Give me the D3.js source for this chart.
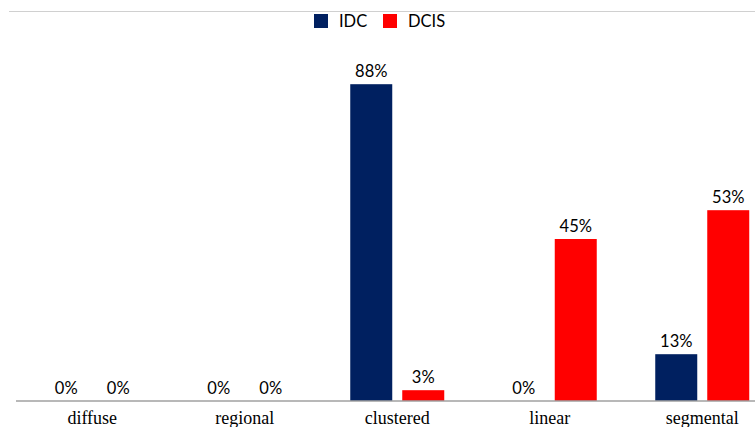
<!DOCTYPE html>
<html>
<head>
<meta charset="utf-8">
<script src="https://cdn.jsdelivr.net/npm/d3@7"></script>
<style>
  body { margin: 0; background: #fff; }
</style>
</head>
<body>
<div id="chart-area"></div>
<script>
// data
var categories = ["diffuse", "regional", "clustered", "linear", "segmental"];
var seriesNames = ["IDC", "DCIS"];
var idcValues = [0, 0, 88, 0, 13];
var dcisValues = [0, 0, 3, 45, 53];
var seriesColors = ["#002060", "#ff0000"];

var W = 755, H = 427;
var svg = d3.select("#chart-area").append("svg")
    .attr("width", W)
    .attr("height", H);

var data = categories.map((c, i) => {
    return { name: c, values: [idcValues[i], dcisValues[i]] };
});

// band step ~152.5, chart runs past the right edge
var x = d3.scaleBand()
    .domain(categories)
    .range([16, 16 + 152.5 * categories.length])
    .padding(0);

// two bars 42 wide with a 10px gap
var xInner = d3.scaleBand()
    .domain(seriesNames)
    .range([x.bandwidth() / 2 - 47, x.bandwidth() / 2 + 47])
    .paddingInner(10 / 52)
    .paddingOuter(0);

var y = d3.scaleLinear()
    .domain([0, 100])
    .range([401, 41]);

// top rule
svg.append("line")
    .attr("x1", 9).attr("x2", W)
    .attr("y1", 11.5).attr("y2", 11.5)
    .attr("stroke", "#d0d0d0")
    .attr("stroke-width", 1.2);

var groups = svg.selectAll("g.cat")
    .data(data)
    .enter()
    .append("g")
        .attr("class", "cat")
        .attr("transform", (d) => { return "translate(" + x(d.name) + ",0)"; });

groups.selectAll("rect")
    .data((d) => { return d.values.map((v, j) => { return { s: seriesNames[j], v: v, c: seriesColors[j] }; }); })
    .enter()
    .append("rect")
        .attr("x", (d) => { return xInner(d.s); })
        .attr("y", (d) => { return y(d.v); })
        .attr("width", xInner.bandwidth())
        .attr("height", (d) => { return y(0) - y(d.v); })
        .attr("fill", (d) => { return d.c; });

groups.selectAll("text.val")
    .data((d) => { return d.values.map((v, j) => { return { s: seriesNames[j], v: v }; }); })
    .enter()
    .append("text")
        .attr("class", "val")
        .attr("x", (d) => { return xInner(d.s) + xInner.bandwidth() / 2; })
        .attr("y", (d) => { return y(d.v) - 7; })
        .attr("text-anchor", "middle")
        .style("font-family", "Lato, 'Open Sans', sans-serif")
        .style("font-size", "16.5px")
        .attr("fill", "#000")
        .text((d) => { return d.v + "%"; });

// baseline
svg.append("line")
    .attr("x1", 16).attr("x2", W)
    .attr("y1", y(0)).attr("y2", y(0))
    .attr("stroke", "#a0a0a0")
    .attr("stroke-width", 1.6);

// category labels
var xAxis = svg.append("g")
    .attr("transform", "translate(0," + y(0) + ")")
    .call(d3.axisBottom(x).tickSize(0).tickPadding(10));
xAxis.select(".domain").remove();
xAxis.selectAll("text")
    .style("font-family", "'Liberation Serif', 'Times New Roman', serif")
    .style("font-size", "18px")
    .attr("fill", "#000");

// legend
var legend = svg.append("g");
var legendX = [314, 383];
seriesNames.forEach((s, i) => {
    legend.append("rect")
        .attr("x", legendX[i]).attr("y", 14)
        .attr("width", 14).attr("height", 14)
        .attr("fill", seriesColors[i]);
    legend.append("text")
        .attr("x", legendX[i] + 25).attr("y", 27)
        .style("font-family", "Lato, 'Open Sans', sans-serif")
        .style("font-size", "16.5px")
        .attr("fill", "#000")
        .text(s);
});
</script>
</body>
</html>
